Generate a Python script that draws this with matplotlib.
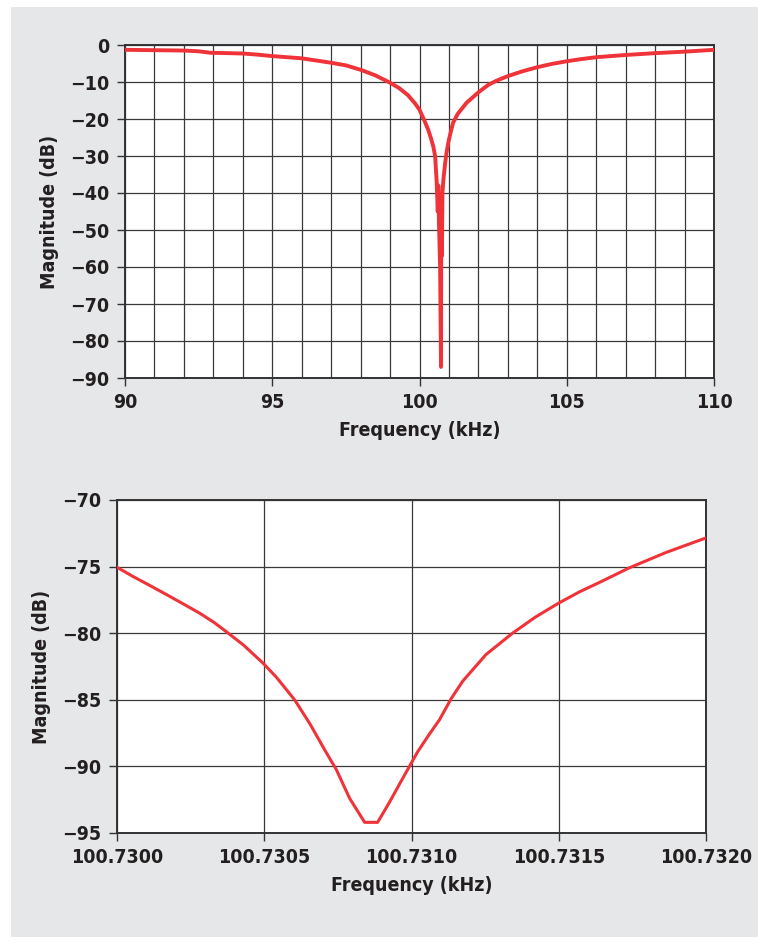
import matplotlib
matplotlib.use("Agg")
import matplotlib.pyplot as plt
from matplotlib.patches import Rectangle
from matplotlib.ticker import MultipleLocator, FuncFormatter

# ---- data: wide sweep (kHz, dB) ----
wide_freq = [90.0, 91.0, 92.0, 92.5, 92.9, 93.5, 94.0, 94.5, 95.0, 96.0, 97.0, 97.5,
             98.0, 98.5, 99.0, 99.3, 99.6, 99.85, 100.0, 100.16, 100.3, 100.4, 100.47,
             100.53, 100.58, 100.62, 100.64, 100.66, 100.70, 100.731, 100.74, 100.75,
             100.76, 100.78, 100.81, 100.87, 100.92, 101.0, 101.14, 101.3, 101.6,
             102.0, 102.33, 102.6, 103.0, 103.5, 104.0, 104.5, 105.0, 105.5, 106.0,
             107.0, 108.0, 109.0, 110.0]
wide_mag = [-1.3, -1.4, -1.5, -1.7, -2.1, -2.2, -2.3, -2.6, -3.0, -3.6, -4.8, -5.5,
            -6.7, -8.2, -10.2, -11.6, -13.5, -15.8, -17.5, -20.3, -23.0, -25.5, -27.5,
            -30.0, -36.5, -45.0, -38.0, -48.0, -60.0, -87.0, -47.0, -45.0,
            -57.0, -40.0, -36.5, -32.0, -29.0, -25.5, -21.0, -18.6, -15.6,
            -12.8, -10.8, -9.7, -8.4, -7.1, -6.0, -5.1, -4.4, -3.8, -3.3,
            -2.7, -2.2, -1.8, -1.3]

# ---- data: zoomed sweep (kHz, dB) ----
zoom_freq = [100.730000, 100.730055, 100.730110, 100.730168, 100.730225, 100.730281,
             100.730330, 100.730372, 100.730430, 100.730496, 100.730541, 100.730603,
             100.730655, 100.730705, 100.730745, 100.730790, 100.730841, 100.730885,
             100.730925, 100.730960, 100.730993, 100.731021, 100.731060, 100.731095,
             100.731135, 100.731174, 100.731253, 100.731343, 100.731420, 100.731499,
             100.731570, 100.731637, 100.731739, 100.731863, 100.731987, 100.732000]
zoom_mag = [-75.05, -75.75, -76.4, -77.1, -77.8, -78.5,
            -79.2, -79.9, -80.9, -82.25, -83.3, -85.0,
            -86.8, -88.75, -90.25, -92.4, -94.2, -94.2,
            -92.7, -91.3, -90.0, -88.9, -87.6, -86.5,
            -84.9, -83.6, -81.6, -80.0, -78.8, -77.75,
            -76.9, -76.2, -75.1, -73.95, -72.95, -72.85]

W, H = 774, 949
fig = plt.figure(figsize=(W / 100, H / 100), dpi=100)
fig.patch.set_facecolor("white")
fig.patches.append(Rectangle((11 / W, 1 - 937 / H), (758 - 11) / W, (937 - 7) / H,
                             transform=fig.transFigure, facecolor="#e6e7e8",
                             edgecolor="none", zorder=-10))

FONT = ["Liberation Sans Narrow", "DejaVu Sans"]
FS = 14
FP = dict(family=FONT, fontweight="bold", fontsize=FS, fontstretch="condensed")
RED = "#ef3338"
GRID = "#3a3a3a"
TXT = "#231f20"


def ax_rect(l, t, r, b):
    return [l / W, 1 - b / H, (r - l) / W, (b - t) / H]


def style(ax):
    ax.set_facecolor("white")
    for s in ax.spines.values():
        s.set_color("#333333")
        s.set_linewidth(1.4)
    ax.tick_params(axis="both", direction="out", length=6, width=1.0,
                   color="#333333", pad=5)
    for lab in ax.get_xticklabels() + ax.get_yticklabels():
        lab.set_family(FONT)
        lab.set_fontweight("bold")
        lab.set_fontsize(FS)
        lab.set_fontstretch("condensed")
        lab.set_color(TXT)


minus = lambda v, p: ("\u2212%d" % abs(v)) if v < 0 else "%d" % v

# ---- top chart ----
ax1 = fig.add_axes(ax_rect(125, 45, 714, 378))
ax1.plot(wide_freq, wide_mag, color=RED, lw=2.8, zorder=3)
ax1.set_xlim(90, 110)
ax1.set_ylim(-90, 0)
ax1.xaxis.set_major_locator(MultipleLocator(5))
ax1.xaxis.set_minor_locator(MultipleLocator(1))
ax1.yaxis.set_major_locator(MultipleLocator(10))
ax1.yaxis.set_major_formatter(FuncFormatter(minus))
ax1.grid(True, which="both", axis="x", color=GRID, lw=0.9)
ax1.grid(True, which="major", axis="y", color=GRID, lw=0.9)
ax1.tick_params(axis="x", which="minor", length=0)
ax1.set_axisbelow(True)
style(ax1)
ax1.set_xlabel("Frequency (kHz)", color=TXT, labelpad=6, **FP)
ax1.set_ylabel("Magnitude (dB)", color=TXT, labelpad=8, **FP)

# ---- bottom chart ----
ax2 = fig.add_axes(ax_rect(117, 500, 706, 833))
ax2.plot(zoom_freq, zoom_mag, color=RED, lw=2.2, zorder=3)
ax2.set_xlim(100.7300, 100.7320)
ax2.set_ylim(-95, -70)
ax2.set_xticks([100.7300, 100.7305, 100.7310, 100.7315, 100.7320])
ax2.xaxis.set_major_formatter(FuncFormatter(lambda v, p: "%.4f" % v))
ax2.yaxis.set_major_locator(MultipleLocator(5))
ax2.yaxis.set_major_formatter(FuncFormatter(minus))
ax2.grid(True, color=GRID, lw=0.9)
ax2.set_axisbelow(True)
style(ax2)
ax2.set_xlabel("Frequency (kHz)", color=TXT, labelpad=6, **FP)
ax2.set_ylabel("Magnitude (dB)", color=TXT, labelpad=8, **FP)

fig.savefig("out.png", dpi=100, facecolor=fig.get_facecolor())
